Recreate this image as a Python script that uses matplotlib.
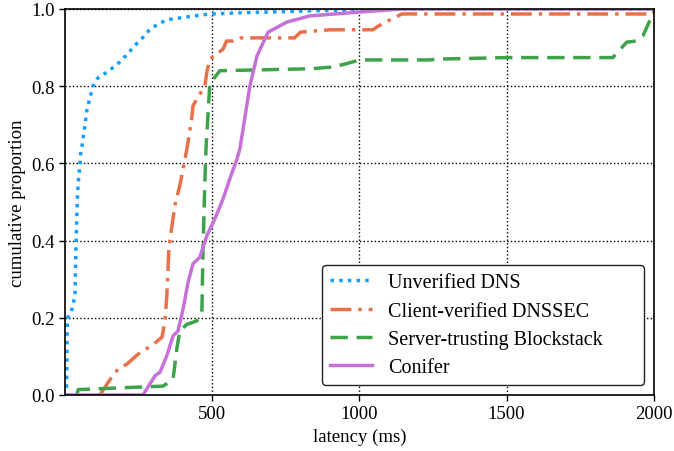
import matplotlib
matplotlib.use("Agg")
import matplotlib.pyplot as plt

plt.rcParams['font.family'] = ['Liberation Serif', 'DejaVu Serif']

# Unverified DNS
dns_x = [0, 5, 8, 20, 34, 37, 42, 45, 51, 53, 58, 75, 95, 110, 150, 187, 220, 248, 270, 289, 320, 346, 420, 492, 600, 832, 1000, 1200, 2000]
dns_y = [0.0, 0.0, 0.2, 0.21, 0.257, 0.378, 0.508, 0.55, 0.6, 0.624, 0.645, 0.74, 0.80, 0.82, 0.84, 0.863, 0.89, 0.914, 0.93, 0.948, 0.962, 0.972, 0.98, 0.987, 0.99, 0.995, 0.998, 1.0, 1.0]

# Client-verified DNSSEC
sec_x = [119, 153, 180, 210, 255, 295, 330, 340, 346, 353, 360, 374, 390, 401, 414, 418, 431, 435, 448, 475, 482, 492, 537, 549, 571, 595, 780, 800, 900, 1046, 1063, 1100, 1144, 1999, 2000]
sec_y = [0.0, 0.04, 0.067, 0.08, 0.11, 0.128, 0.15, 0.197, 0.257, 0.378, 0.42, 0.494, 0.542, 0.585, 0.637, 0.655, 0.72, 0.749, 0.767, 0.80, 0.837, 0.87, 0.896, 0.917, 0.917, 0.925, 0.925, 0.94, 0.946, 0.946, 0.955, 0.97, 0.987, 0.987, 1.0]

# Server-trusting Blockstack
bs_x = [40, 45, 333, 367, 380, 390, 414, 448, 465, 469, 475, 479, 492, 526, 832, 900, 950, 1002, 1240, 1263, 1500, 1861, 1908, 1942, 1963, 1986, 2000]
bs_y = [0.0, 0.014, 0.023, 0.04, 0.12, 0.166, 0.183, 0.192, 0.215, 0.378, 0.55, 0.637, 0.806, 0.84, 0.845, 0.849, 0.857, 0.868, 0.868, 0.87, 0.874, 0.874, 0.914, 0.917, 0.93, 0.969, 0.985]

# Conifer
con_x = [0, 265, 306, 323, 346, 367, 384, 401, 418, 435, 458, 482, 509, 537, 560, 584, 594, 628, 652, 690, 754, 832, 1000, 1150, 2000]
con_y = [0.0, 0.0, 0.05, 0.059, 0.102, 0.153, 0.166, 0.222, 0.292, 0.34, 0.357, 0.413, 0.456, 0.508, 0.56, 0.611, 0.637, 0.80, 0.878, 0.94, 0.966, 0.982, 0.992, 1.0, 1.0]

labels = ["Unverified DNS", "Client-verified DNSSEC", "Server-trusting Blockstack", "Conifer"]
colors = ["#0fa0ff", "#e8714a", "#3da34a", "#c671d8"]

fig = plt.figure(figsize=(6.74, 4.52), dpi=100)
ax = fig.add_axes([0.0964, 0.1239, 0.8736, 0.8541])

ax.plot(dns_x, dns_y, color=colors[0], lw=2.5, linestyle=(0, (1, 1.5)), label=labels[0])
ax.plot(sec_x, sec_y, color=colors[1], lw=2.5, linestyle=(0, (6, 2, 1, 2)), label=labels[1])
ax.plot(bs_x, bs_y, color=colors[2], lw=2.5, linestyle=(0, (5, 2.5)), label=labels[2])
ax.plot(con_x, con_y, color=colors[3], lw=2.5, linestyle='-', label=labels[3])

ax.set_xlim(0, 2000)
ax.set_ylim(0, 1.0)
ax.set_xticks([500, 1000, 1500, 2000])
ax.set_yticks([0.0, 0.2, 0.4, 0.6, 0.8, 1.0])
ax.set_yticklabels(["0.0", "0.2", "0.4", "0.6", "0.8", "1.0"])
ax.grid(True, color='black', linestyle=':', linewidth=1)
ax.tick_params(labelsize=13.5, direction='out', length=4, width=1)
for s in ax.spines.values():
    s.set_linewidth(1.2)
ax.set_xlabel("latency (ms)", fontsize=13.5)
ax.set_ylabel("cumulative proportion", fontsize=13.5)

leg = ax.legend(loc='lower left', bbox_to_anchor=(0.436, 0.026, 0.547, 0.3), mode='expand',
                fontsize=14.5, frameon=True, fancybox=True, borderaxespad=0.0,
                edgecolor='#222222', framealpha=1.0, handlelength=2.1, handletextpad=0.8,
                labelspacing=0.45, borderpad=0.4)
leg.get_frame().set_linewidth(1.0)

fig.savefig("out.png", dpi=100)
